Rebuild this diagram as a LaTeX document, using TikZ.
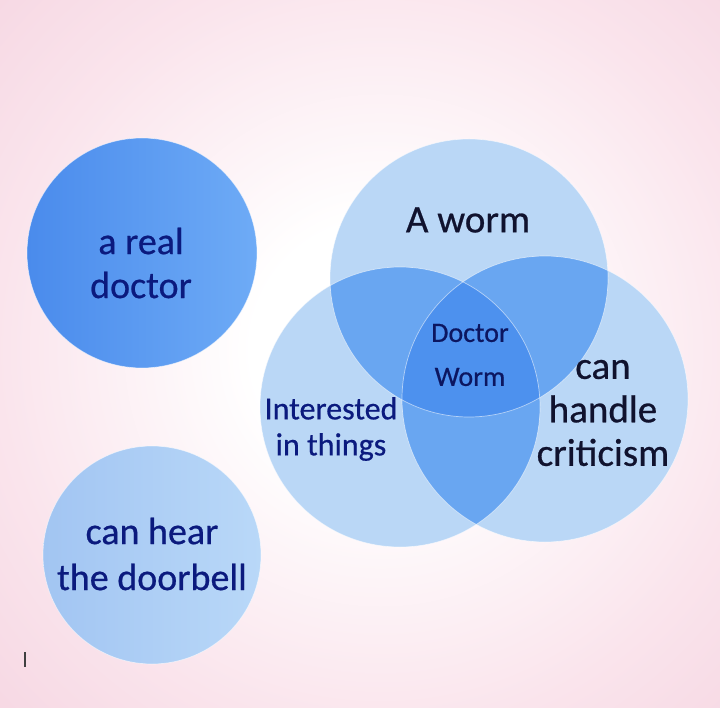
\documentclass[tikz,border=0pt]{standalone}
\usepackage{fontspec}
\setmainfont{Carlito}[FakeBold=0.6]
\definecolor{bgpinkA}{HTML}{FAE4EC}
\definecolor{bgpinkB}{HTML}{F3CCDB}
\definecolor{bgpinkC}{HTML}{EDBDD0}
\definecolor{colOne}{HTML}{BAD7F6}
\definecolor{colTwo}{HTML}{69A6F1}
\definecolor{colThree}{HTML}{4D91EE}
\definecolor{realL}{HTML}{4A8BEC}
\definecolor{realR}{HTML}{6EABF6}
\definecolor{bellA}{HTML}{A2C5F2}
\definecolor{bellB}{HTML}{B9D8F8}
\definecolor{navy}{HTML}{0B1A7E}
\definecolor{inkdark}{HTML}{10122E}
\definecolor{docnavy}{HTML}{0C1660}
\pgfdeclareradialshading{bgshade}{\pgfpoint{0bp}{0bp}}{color(0bp)=(white); color(8bp)=(white); color(24bp)=(bgpinkA); color(42bp)=(bgpinkB); color(62bp)=(bgpinkC)}
\begin{document}
\begin{tikzpicture}[x=1pt,y=-1pt,
  lab/.style={align=center, inner sep=0pt},
  rim/.style={draw=white, draw opacity=0.55, line width=0.7pt}]
\useasboundingbox (0,0) rectangle (720,708);
\begin{scope}
  \clip (0,0) rectangle (720,708);
  \shade[shading=bgshade] (-20,-50) rectangle (780,750);
\end{scope}
% centres
\coordinate (cW) at (469,278);
\coordinate (cI) at (400,407);
\coordinate (cC) at (545,399);
\coordinate (cR) at (142,253);
\coordinate (cB) at (152,555);
% single circles
\shade[left color=realL, right color=realR] (cR) circle[radius=115pt];
\draw[rim] (cR) circle[radius=115pt];
\shade[shading angle=225, left color=bellA, right color=bellB] (cB) circle[radius=109pt];
\draw[rim] (cB) circle[radius=109pt];
% venn
\fill[colOne] (cW) circle[radius=139pt];
\fill[colOne] (cI) circle[radius=140pt];
\fill[colOne] (cC) circle[radius=143pt];
\begin{scope}
  \clip (cW) circle[radius=139pt];
  \fill[colTwo] (cI) circle[radius=140pt];
  \fill[colTwo] (cC) circle[radius=143pt];
\end{scope}
\begin{scope}
  \clip (cI) circle[radius=140pt];
  \fill[colTwo] (cC) circle[radius=143pt];
\end{scope}
\begin{scope}
  \clip (cW) circle[radius=139pt];
  \clip (cI) circle[radius=140pt];
  \fill[colThree] (cC) circle[radius=143pt];
\end{scope}
\draw[rim] (cW) circle[radius=139pt];
\draw[rim] (cI) circle[radius=140pt];
\draw[rim] (cC) circle[radius=143pt];
% labels
\node[lab, text=navy, font=\fontsize{38}{44}\selectfont] (realdoc) at (141,263) {a real\\doctor};
\node[lab, text=navy, font=\fontsize{38}{46}\selectfont] (doorbell) at (152,554) {can hear\\the doorbell};
\node[lab, text=inkdark, font=\fontsize{39}{44}\selectfont] (worm) at (468,220) {A worm};
\node[lab, text=navy, font=\fontsize{32}{36}\selectfont] (interested) at (331,429) {Interested\\in things};
\node[lab, text=inkdark, font=\fontsize{39}{43.5}\selectfont] (criticism) at (603,413) {can\\handle\\criticism};
\node[lab, text=docnavy, font=\fontsize{28}{44}\selectfont] (doctorworm) at (470,355) {Doctor\\Worm};
% stray cursor mark
\draw[line width=1.2pt, gray!50!black] (25,652) -- (25,667);
\end{tikzpicture}
\end{document}
